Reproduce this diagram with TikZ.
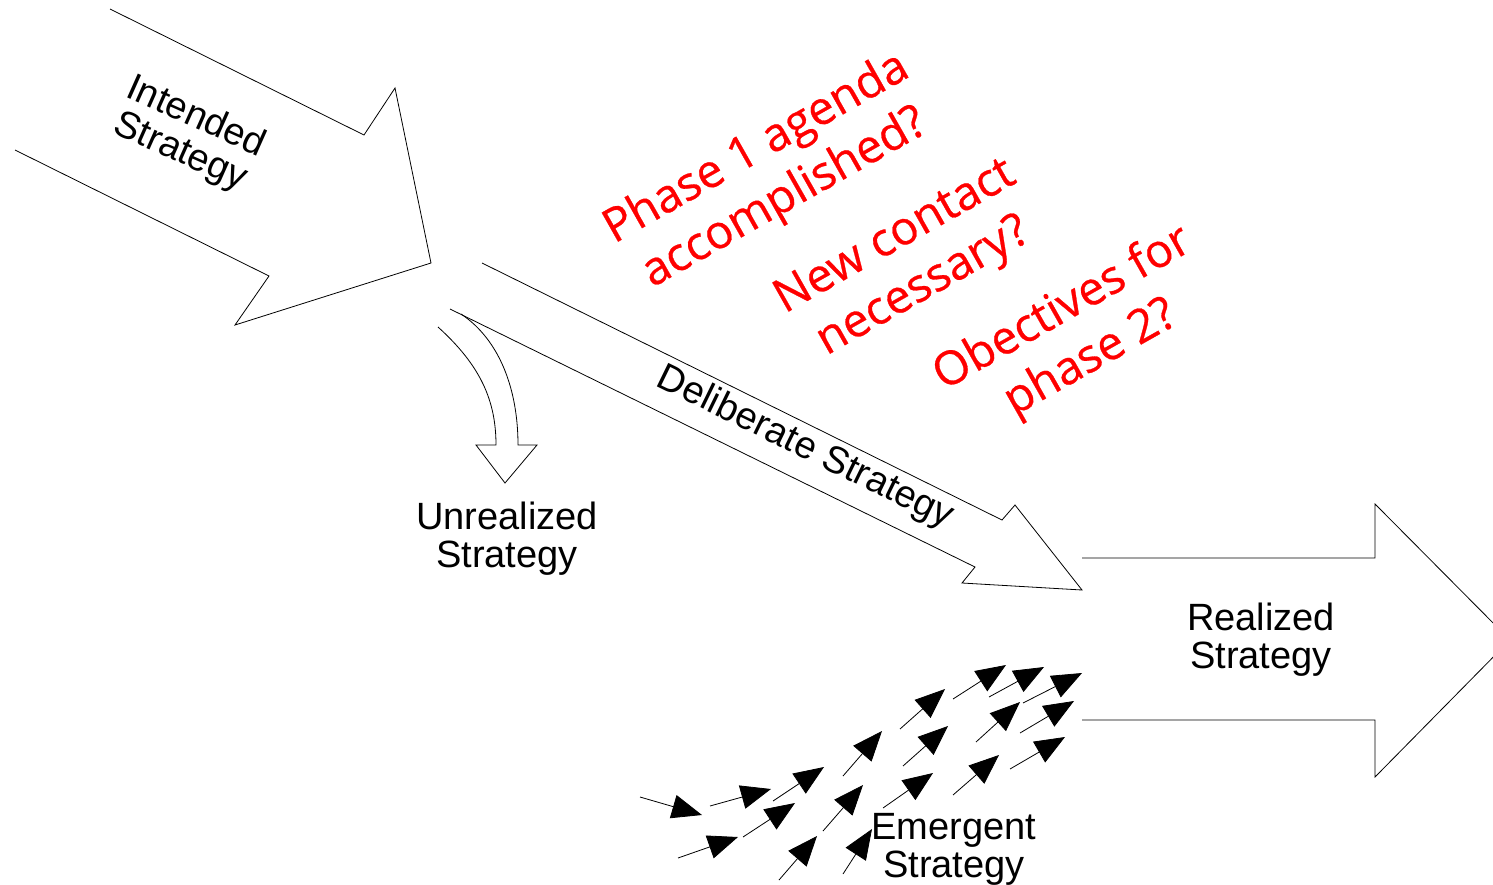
\documentclass[tikz,border=0pt]{standalone}
\usepackage{fontspec}
\setmainfont{Liberation Sans}
\newfontfamily\redfont[FakeBold=0.6]{Open Sans}
\usetikzlibrary{arrows.meta}
\begin{document}
\begin{tikzpicture}[x=1pt,y=-1pt,
  outline/.style={draw=black, line width=0.8pt, line join=miter},
  lbl/.style={font=\fontsize{38}{38}\selectfont, align=center, inner sep=0pt, text=black},
  redq/.style={font=\redfont\fontsize{46.5}{57}\selectfont, align=center, inner sep=0pt, text=red, rotate=29.5},
  emarrow/.style={draw=black, line width=0.8pt, -{Triangle[length=30pt,width=24pt]}}]
\useasboundingbox (0,0) rectangle (1493,884);
\clip (0,0) rectangle (1493,884);

% Intended strategy block arrow
\draw[outline] (110,9) -- (364,135) -- (395,88) -- (431,263) -- (235,325) -- (269,276) -- (15,150);
% Deliberate strategy block arrow
\draw[outline] (482,263) -- (1002,520) -- (1015,505) -- (1082,590) -- (962,583) -- (975,567) -- (450,309);
% Unrealized curved arrow
\draw[outline] (461,314) .. controls (500,340) and (518,390) .. (518,445) -- (537,445) -- (505,483) -- (476,445) -- (496,445)
   .. controls (496,400) and (480,365) .. (438,327);
% Realized strategy block arrow
\draw[outline] (1082,558) -- (1375,558) -- (1375,504) -- (1510,640) -- (1375,777) -- (1375,720) -- (1082,720);

% Emergent arrows
\foreach \xa/\ya/\xb/\yb in {
  640/797/702/815, 710/806/771/789, 773/801/824/767, 678/858/738/837,
  743/837/795/803, 843/776/882/731, 823/831/863/785, 779/880/817/836,
  843/874/872/829, 900/729/945/689, 903/766/948/726, 883/808/933/773,
  953/699/1006/665, 976/742/1020/702, 953/795/999/755, 989/697/1044/667,
  1023/703/1082/673, 1020/733/1074/701, 1010/769/1065/737}
  \draw[emarrow] (\xa,\ya) -- (\xb,\yb);

% Labels
\node[lbl, rotate=-24] (intended) at (188,135) {Intended\\Strategy};
\node[lbl, rotate=-26] (deliberate) at (805,448) {Deliberate Strategy};
\node[lbl] (unrealized) at (507,539) {Unrealized\\Strategy};
\node[lbl] (realized) at (1261,640) {Realized\\Strategy};
\node[lbl] (emergent) at (954,849) {Emergent\\Strategy};

% Red questions
\node[redq] (q1) at (771,174) {Phase 1 agenda\\accomplished?};
\node[redq] (q2) at (910,263) {New contact\\necessary?};
\node[redq] (q3) at (1077,334) {Obectives for\\phase 2?};
\end{tikzpicture}
\end{document}
